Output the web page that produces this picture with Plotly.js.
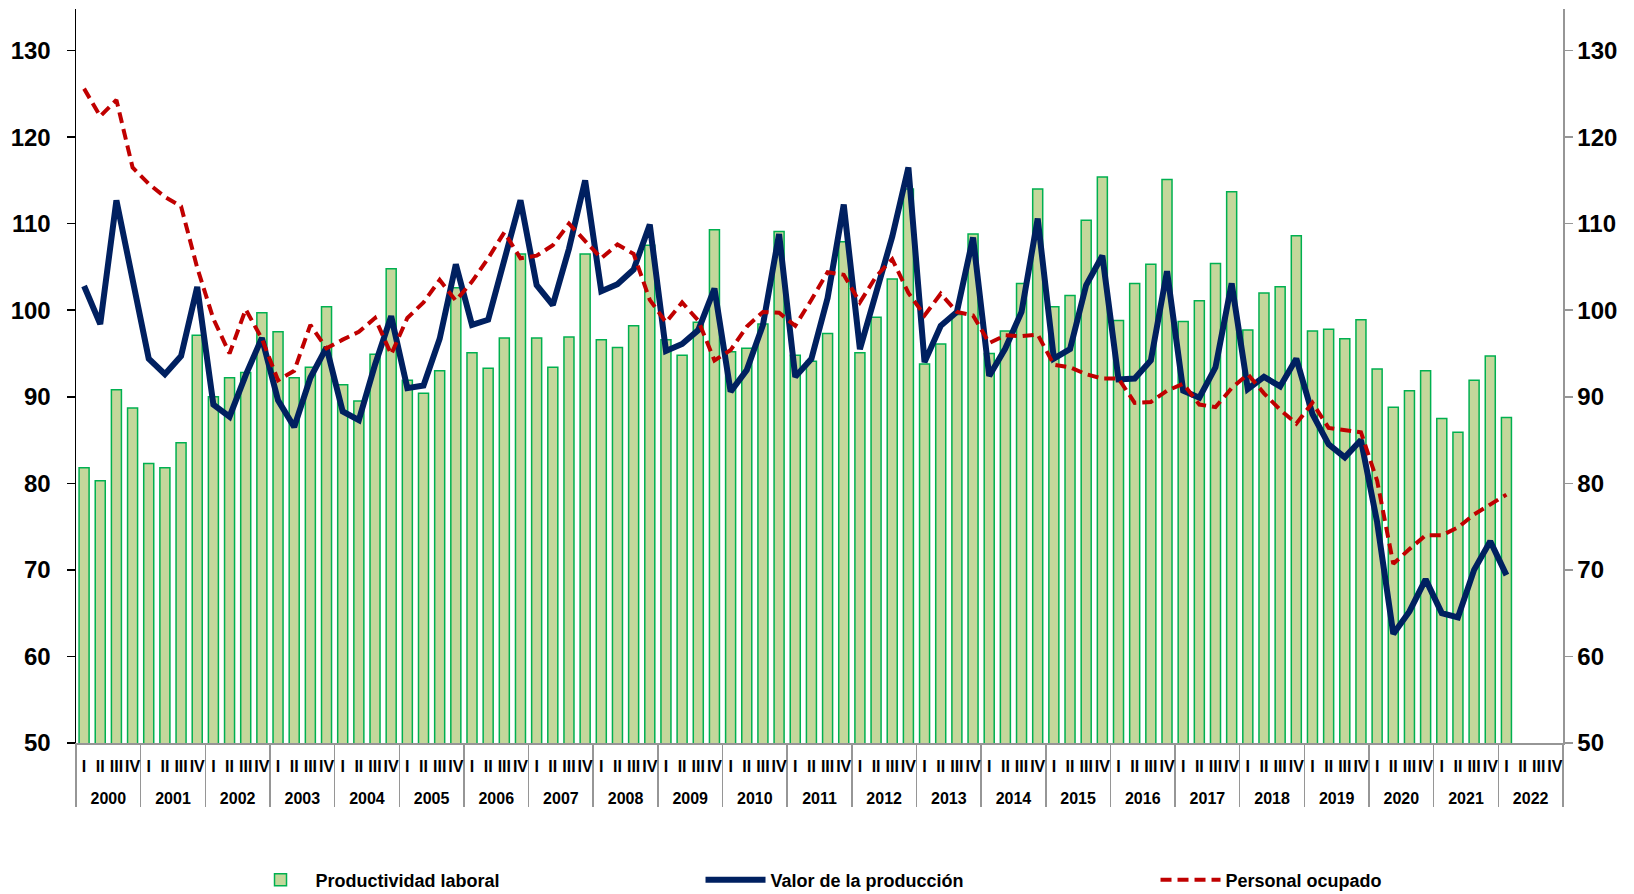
<!DOCTYPE html>
<html><head><meta charset="utf-8">
<script src="https://cdn.plot.ly/plotly-3.0.1.min.js"></script>
<style>html,body{margin:0;padding:0;background:#fff}#chart{width:1634px;height:894px}</style>
</head><body><div id="chart"></div>
<script>
const years = ["2000","2001","2002","2003","2004","2005","2006","2007","2008","2009","2010","2011",
  "2012","2013","2014","2015","2016","2017","2018","2019","2020","2021","2022"];
const quarters = ["I","II","III","IV"];

// Productividad laboral (barras), 2000-I a 2022-I
const productividad = [
  81.8, 80.3, 90.8, 88.7,
  82.3, 81.8, 84.7, 97.1,
  90.0, 92.2, 92.8, 99.7,
  97.5, 92.2, 93.4, 100.4,
  91.4, 89.5, 94.9, 104.8,
  91.9, 90.4, 93.0, 102.6,
  95.1, 93.3, 96.8, 106.5,
  96.8, 93.4, 96.9, 106.5,
  96.6, 95.7, 98.2, 107.5,
  96.6, 94.8, 98.6, 109.3,
  95.2, 95.6, 98.4, 109.1,
  94.8, 94.1, 97.3, 107.9,
  95.1, 99.2, 103.6, 114.0,
  93.8, 96.1, 99.5, 108.8,
  95.0, 97.6, 103.1, 114.0,
  100.4, 101.7, 110.4, 115.4,
  98.8, 103.1, 105.3, 115.1,
  98.7, 101.1, 105.4, 113.7,
  97.7, 102.0, 102.7, 108.6,
  97.6, 97.8, 96.7, 98.9,
  93.2, 88.8, 90.7, 93.0,
  87.5, 85.9, 91.9, 94.7,
  87.6
];

// Valor de la producción
const valor = [
  102.8, 98.4, 112.7, 103.6,
  94.4, 92.6, 94.7, 102.7,
  89.1, 87.7, 92.5, 96.8,
  89.6, 86.5, 92.2, 95.7,
  88.3, 87.3, 93.7, 99.3,
  91.0, 91.3, 96.7, 105.3,
  98.3, 98.9, 106.0, 112.7,
  102.9, 100.6, 107.1, 115.0,
  102.2, 103.0, 104.7, 109.9,
  95.3, 96.1, 97.7, 102.5,
  90.6, 93.1, 98.3, 108.8,
  92.3, 94.4, 101.4, 112.2,
  95.5, 101.7, 108.5, 116.5,
  94.0, 98.2, 99.8, 108.4,
  92.4, 95.6, 99.8, 110.6,
  94.4, 95.5, 102.9, 106.3,
  92.0, 92.1, 94.2, 104.5,
  90.7, 89.9, 93.4, 103.1,
  90.9, 92.3, 91.2, 94.4,
  88.0, 84.5, 83.0, 85.0,
  75.5, 62.6, 65.2, 68.9,
  65.0, 64.5, 70.0, 73.3,
  69.4
];

// Personal ocupado
const personal = [
  125.6, 122.4, 124.3, 116.5,
  114.6, 113.1, 112.0, 104.9,
  99.0, 95.0, 100.1, 96.7,
  91.9, 93.0, 98.3, 95.6,
  96.6, 97.5, 99.1, 94.9,
  99.1, 100.9, 103.5, 101.1,
  103.3, 106.0, 109.0, 106.0,
  106.3, 107.5, 110.0, 108.0,
  106.0, 107.6, 106.5, 101.2,
  98.6, 100.9, 98.8, 94.2,
  95.4, 98.1, 99.8, 99.7,
  98.2, 101.2, 104.4, 104.1,
  100.9, 103.9, 105.9, 102.0,
  99.4, 101.9, 99.8, 99.4,
  96.2, 97.1, 97.0, 97.2,
  93.7, 93.4, 92.6, 92.1,
  92.1, 89.3, 89.4, 90.7,
  91.5, 89.1, 88.8, 91.0,
  92.6, 90.4, 88.5, 86.9,
  89.3, 86.4, 86.1, 85.9,
  80.3, 70.7, 72.4, 74.0,
  74.0, 74.9, 76.4, 77.6,
  78.7
];

const yTicks = [50, 60, 70, 80, 90, 100, 110, 120, 130];

// build two-level category axis (year group label dropped one line below the quarter row)
const xYear = [], xQuarter = [];
years.forEach(y => quarters.forEach(q => { xYear.push('<br>' + y); xQuarter.push(q); }));
const pad = arr => xYear.map((_, i) => (i < arr.length ? arr[i] : null));
const nData = productividad.length;
const xData = [xYear.slice(0, nData), xQuarter.slice(0, nData)];

const FONT = 'Liberation Sans, Arial, Helvetica, sans-serif';

const traces = [
  {
    type: 'bar', name: 'Productividad laboral',
    x: [xYear, xQuarter], y: pad(productividad),
    marker: { color: '#c4d79b', line: { color: '#00b050', width: 1.5 } },
    hoverinfo: 'skip'
  },
  {
    type: 'scatter', mode: 'lines', name: 'Valor de la producción',
    x: xData, y: valor,
    line: { color: '#002060', width: 6, shape: 'linear' },
    hoverinfo: 'skip'
  },
  {
    type: 'scatter', mode: 'lines', name: 'Personal ocupado',
    x: xData, y: personal,
    line: { color: '#c00000', width: 4, dash: '11px,6px' },
    hoverinfo: 'skip'
  },
  {
    type: 'scatter', mode: 'lines', name: 'eje2', yaxis: 'y2',
    x: xData, y: personal, opacity: 0, showlegend: false, hoverinfo: 'skip',
    line: { width: 0 }
  }
];

const layout = {
  width: 1634, height: 894,
  margin: { l: 76, r: 71, t: 9, b: 151, autoexpand: false },
  paper_bgcolor: '#ffffff', plot_bgcolor: '#ffffff',
  font: { family: FONT, color: '#000000', size: 17, weight: 'bold' },
  bargap: 0.38,
  showlegend: true,
  legend: {
    orientation: 'h', x: 0.114, xanchor: 'left', y: -0.1866, yanchor: 'middle',
    entrywidth: 380, entrywidthmode: 'pixels', itemwidth: 60,
    font: { family: FONT, size: 18, color: '#000000', weight: 'bold' },
    traceorder: 'normal'
  },
  xaxis: {
    type: 'multicategory',
    tickmode: 'linear', tick0: 0, dtick: 1, tickangle: 0,
    showline: true, linecolor: '#969696', linewidth: 1.5,
    showgrid: false, zeroline: false, ticks: '',
    ticklabelstandoff: 8,
    showdividers: true, dividercolor: '#969696', dividerwidth: 1.5,
    tickfont: { family: FONT, size: 16, color: '#000000', weight: 'bold' }
  },
  yaxis: {
    range: [50, 134.8], tickvals: yTicks, ticktext: yTicks.map(String),
    showline: true, linecolor: '#000000', linewidth: 1.5,
    ticks: 'outside', ticklen: 8, tickcolor: '#000000', tickwidth: 1.5,
    showgrid: false, zeroline: false, ticklabelstandoff: 11,
    tickfont: { family: FONT, size: 24, color: '#000000', weight: 'bold' }
  },
  yaxis2: {
    overlaying: 'y', side: 'right', anchor: 'x',
    range: [50, 134.8], tickvals: yTicks, ticktext: yTicks.map(String),
    showline: true, linecolor: '#969696', linewidth: 1.5,
    ticks: 'outside', ticklen: 8, tickcolor: '#969696', tickwidth: 1.5,
    showgrid: false, zeroline: false, ticklabelstandoff: 0,
    tickfont: { family: FONT, size: 24, color: '#000000', weight: 'bold' }
  }
};

Plotly.newPlot('chart', traces, layout, { staticPlot: true, displayModeBar: false });
</script>
</body></html>
